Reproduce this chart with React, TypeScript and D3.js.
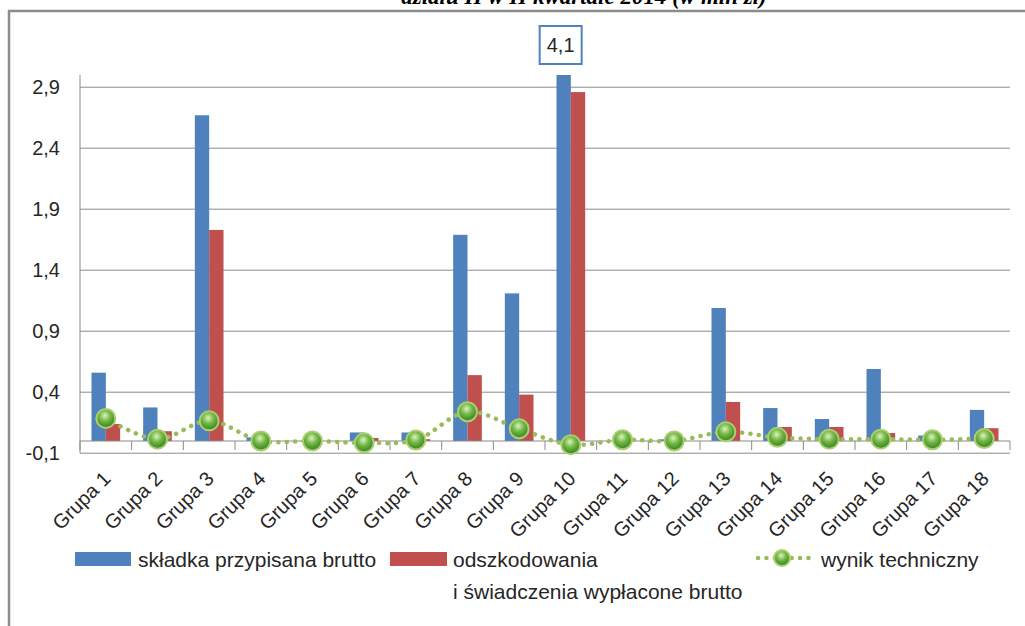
import React from "react";
import * as d3 from "d3";

const groups = ["Grupa 1","Grupa 2","Grupa 3","Grupa 4","Grupa 5","Grupa 6","Grupa 7","Grupa 8","Grupa 9","Grupa 10","Grupa 11","Grupa 12","Grupa 13","Grupa 14","Grupa 15","Grupa 16","Grupa 17","Grupa 18"];
const skladka = [0.56,0.275,2.67,0.03,0.0,0.07,0.07,1.69,1.21,4.1,0.0,0.014,1.09,0.27,0.18,0.59,0.045,0.255];
const odszkodowania = [0.14,0.08,1.73,0.0,0.0,0.025,0.015,0.54,0.38,2.86,0.0,0.0,0.32,0.115,0.115,0.065,0.0,0.105];
const wynik = [0.185,0.015,0.165,0.0,0.0,-0.015,0.008,0.24,0.1,-0.03,0.01,0.0,0.075,0.03,0.015,0.015,0.01,0.02];
const yTicks = [-0.1,0.4,0.9,1.4,1.9,2.4,2.9];
const seriesNames = ["składka przypisana brutto","odszkodowania","wynik techniczny"];
const legendLine2 = "i świadczenia wypłacone brutto";
const title = "działu II w II kwartale 2014 (w mln zł)";

const BLUE = "#4f81bd";
const RED = "#c0504d";
const GREEN = "#9bbb59";
const GRID = "#8a8a8a";
const TXT = "#262626";
const FONT = "'Liberation Sans', Arial, sans-serif";

export default function App() {
  const left = 80, right = 1010, top = 75;
  const y = d3.scaleLinear().domain([-0.1, 3.0]).range([453.2, top]);
  const x0 = d3.scaleBand<string>().domain(groups).range([left, right]).paddingInner(0).paddingOuter(0);
  const gw = x0.bandwidth() * 0.555;
  const off = (x0.bandwidth() - gw) / 2;
  const x1 = d3.scaleBand<string>().domain(["s", "o"]).range([0, gw]);
  const fmt = (v: number) => d3.format(".1f")(v).replace(".", ",").replace("\u2212", "-");
  const cx = (g: string) => (x0(g) as number) + x0.bandwidth() / 2;
  const clampY = (v: number) => y(Math.min(v, 3.0));
  const line = d3.line<number>()
    .x((_, i) => cx(groups[i]))
    .y((v) => y(v))
    .curve(d3.curveCatmullRom.alpha(0.5));
  const overIdx = skladka.findIndex((v) => v > 3.0);
  const overX = overIdx >= 0 ? (x0(groups[overIdx]) as number) + off + x1.bandwidth() / 2 - 3 : 0;

  const marker = (px: number, py: number, r: number, k: string | number) => (
    <circle key={k} cx={px} cy={py} r={r} fill="url(#gball)" stroke="#a9cf70" strokeWidth={2} />
  );

  return (
    <svg width={1025} height={626} style={{ position: "absolute", left: 0, top: 0, background: "#fff" }}>
      <defs>
        <radialGradient id="gball" cx="45%" cy="35%" r="65%">
          <stop offset="0%" stopColor="#dcf2bd" />
          <stop offset="45%" stopColor="#74b846" />
          <stop offset="100%" stopColor="#347f20" />
        </radialGradient>
      </defs>
      <text x={584} y={4} textAnchor="middle" fontFamily="'Liberation Serif', 'Times New Roman', serif" fontWeight="bold" fontStyle="italic" fontSize={23} fill="#000">{title}</text>
      <line x1={8} x2={1025} y1={11} y2={11} stroke="#8c8c8c" strokeWidth={2.5} />
      <line x1={9} x2={9} y1={10} y2={626} stroke="#8c8c8c" strokeWidth={2.5} />

      {yTicks.map((t) => (
        <g key={t}>
          <line x1={left} x2={right} y1={y(t)} y2={y(t)} stroke={GRID} strokeWidth={1} />
          <text x={60} y={y(t) + 7} textAnchor="end" fontFamily={FONT} fontSize={20} fill={TXT}>{fmt(t)}</text>
        </g>
      ))}
      <line x1={left} x2={left} y1={top} y2={y(-0.1)} stroke={GRID} strokeWidth={1} />

      {groups.map((g, i) => {
        const bx = (x0(g) as number) + off;
        return (
          <g key={g}>
            {skladka[i] !== 0 && (
              <rect x={bx + (x1("s") as number)} y={clampY(skladka[i])} width={x1.bandwidth()} height={y(0) - clampY(skladka[i])} fill={BLUE} />
            )}
            {odszkodowania[i] !== 0 && (
              <rect x={bx + (x1("o") as number)} y={clampY(odszkodowania[i])} width={x1.bandwidth()} height={y(0) - clampY(odszkodowania[i])} fill={RED} />
            )}
          </g>
        );
      })}

      <line x1={left} x2={right} y1={y(0)} y2={y(0)} stroke={GRID} strokeWidth={1} />
      {d3.range(groups.length + 1).map((i) => {
        const xx = left + i * x0.step();
        return <line key={i} x1={xx} x2={xx} y1={y(0)} y2={y(0) + 9} stroke={GRID} strokeWidth={1} />;
      })}

      <path d={line(wynik) || ""} fill="none" stroke={GREEN} strokeWidth={4.5} strokeDasharray="0.1 8.3" strokeLinecap="round" />
      {wynik.map((v, i) => marker(cx(groups[i]), y(v), 9.5, i))}

      {overIdx >= 0 && (
        <g>
          <rect x={overX - 21} y={26} width={42} height={38} fill="#fff" stroke={BLUE} strokeWidth={2} />
          <text x={overX} y={52} textAnchor="middle" fontFamily={FONT} fontSize={20} fill={TXT}>{fmt(skladka[overIdx])}</text>
        </g>
      )}

      {groups.map((g) => (
        <text key={g} transform={`translate(${cx(g) + 6},${480}) rotate(-45)`} textAnchor="end" fontFamily={FONT} fontSize={20} fill={TXT}>{g}</text>
      ))}

      <rect x={75} y={552} width={56} height={14} fill={BLUE} />
      <text x={138} y={567} fontFamily={FONT} fontSize={21} fill={TXT}>{seriesNames[0]}</text>
      <rect x={390} y={552} width={57} height={14} fill={RED} />
      <text x={453} y={567} fontFamily={FONT} fontSize={21} fill={TXT}>{seriesNames[1]}</text>
      <text x={453} y={599} fontFamily={FONT} fontSize={21} fill={TXT}>{legendLine2}</text>
      <line x1={758} x2={810} y1={558} y2={558} stroke={GREEN} strokeWidth={4.5} strokeDasharray="0.1 8.3" strokeLinecap="round" />
      {marker(782, 558, 8, "leg")}
      <text x={821} y={567} fontFamily={FONT} fontSize={21} fill={TXT}>{seriesNames[2]}</text>
    </svg>
  );
}
